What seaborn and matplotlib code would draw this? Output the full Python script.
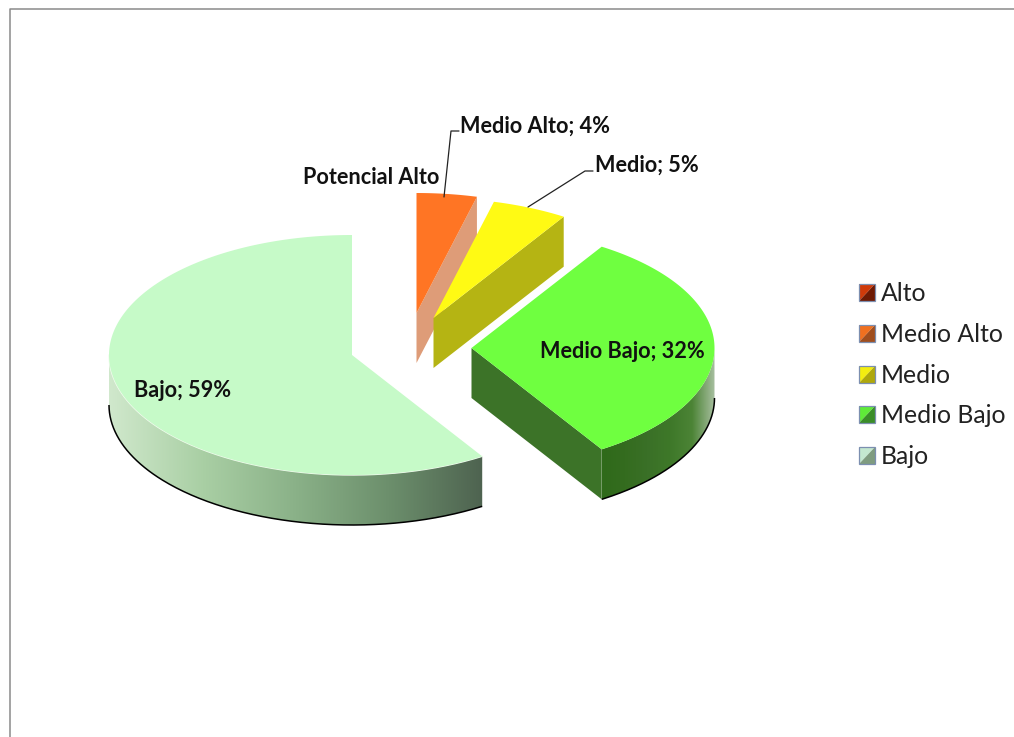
import numpy as np
import matplotlib
matplotlib.use("Agg")
import matplotlib.pyplot as plt
import seaborn as sns
from matplotlib.patches import Patch, PathPatch, Polygon
from matplotlib.path import Path
from matplotlib.legend_handler import HandlerPatch

# Distribution by level, in clockwise order from twelve o'clock
levels = ["Alto", "Medio Alto", "Medio", "Medio Bajo", "Bajo"]
shares = [0, 4, 5, 32, 59]

top_colors = ["#B02A06", "#FF7524", "#FFFA14", "#6FFF40", "#C6FAC8"]
cut_colors = ["#7A1D04", "#DE9C78", "#B5B413", "#3C7328", "#8FB090"]
swatch_light = ["#CF3A0A", "#F0701F", "#F4EE10", "#5FEA38", "#C4E8D0"]
swatch_dark = ["#6E1A04", "#A04E1E", "#AFA80C", "#3A8C28", "#7F9C80"]

# Where each slice's apex sits once the pie is pulled apart
apex = {"Medio Alto": (416.5, 313), "Medio": (433.5, 318),
        "Medio Bajo": (471.5, 348), "Bajo": (352, 355)}
RX, RY, DEPTH = 243, 120, 50

sns.set_theme(style="white")
plt.rcParams["font.family"] = ["Lato", "DejaVu Sans"]

fig = plt.figure(figsize=(10.14, 7.37), dpi=100, facecolor="white")
ax = fig.add_axes([0, 0, 1, 1])
ax.set_xlim(0, 1014)
ax.set_ylim(737, 0)
ax.axis("off")

ax.plot([10, 10, 1014], [737, 8.5, 8.5], color="#8A8A8A", lw=1.1, zorder=1)


def rim(center, a0, a1, n=200):
    """Points on the tilted circle between two clockwise angles (degrees)."""
    t = np.radians(np.linspace(a0, a1, n))
    return center[0] + RX * np.sin(t), center[1] - RY * np.cos(t)


def side_wall(center, a0, a1, cmap, zorder):
    """Outer curved wall, shaded from left to right."""
    x, y = rim(center, a0, a1)
    xs = np.r_[x, x[::-1]]
    ys = np.r_[y, y[::-1] + DEPTH]
    clip = PathPatch(Path(np.c_[xs, ys]), fc="none", ec="none",
                     transform=ax.transData)
    ax.add_patch(clip)
    grad = np.linspace(0, 1, 256).reshape(1, -1)
    im = ax.imshow(grad, cmap=cmap, aspect="auto", zorder=zorder,
                   extent=[x.min(), x.max(), ys.max(), ys.min()])
    im.set_clip_path(clip)
    ax.set_xlim(0, 1014)
    ax.set_ylim(737, 0)
    return x, y


edges = np.cumsum([0] + shares) * 3.6
for i, name in enumerate(levels):
    if shares[i] == 0:
        continue
    a0, a1 = edges[i], edges[i + 1]
    c = apex[name]
    # Flat cut face along the clockwise edge, visible when it faces the viewer
    if a1 < 180:
        ex, ey = rim(c, a1, a1, 1)
        ax.add_patch(Polygon([(c[0], c[1]), (ex[0], ey[0]),
                              (ex[0], ey[0] + DEPTH), (c[0], c[1] + DEPTH)],
                             fc=cut_colors[i], ec="none", zorder=3))
    # Curved outer wall for the part of the rim at the front
    lo, hi = max(a0, 90), min(a1, 270)
    if lo < hi:
        if name == "Bajo":
            cmap = sns.blend_palette(["#D0E8CC", "#A9CFA4", "#8AB188",
                                      "#6C8F6C", "#4E6350"], as_cmap=True)
        else:
            cmap = sns.blend_palette(["#2F6A1A", "#346C1F", "#3A7027",
                                      "#3E7829", "#4C8436", "#A8BFA0"],
                                     as_cmap=True)
        x, y = side_wall(c, lo, hi, cmap, 3.5)
        ax.plot(x, y + DEPTH, color="black", lw=1.1, zorder=4,
                solid_capstyle="butt")
        if name == "Bajo":
            ax.plot(x, y, color="#F2FBEF", lw=1.0, zorder=5)
    # Top face
    tx, ty = rim(c, a0, a1)
    ax.add_patch(Polygon(np.c_[np.r_[c[0], tx], np.r_[c[1], ty]],
                         fc=top_colors[i], ec="none", zorder=6))

# Data labels
label_style = dict(fontsize=15.6, fontweight="bold", color="#111111",
                   va="center", ha="left", zorder=8)
ax.text(303, 177.5, "Potencial Alto", **label_style)
ax.text(460, 126, f"{levels[1]}; {shares[1]}%", **label_style)
ax.text(595, 165.5, f"{levels[2]}; {shares[2]}%", **label_style)
ax.text(540, 351, f"{levels[3]}; {shares[3]}%", **label_style)
ax.text(134, 390.5, f"{levels[4]}; {shares[4]}%", **label_style)

# Leader lines
ax.plot([444, 451, 459], [197, 131, 131], color="#222222", lw=0.9, zorder=7)
ax.plot([528, 585, 593], [207, 171, 171], color="#222222", lw=0.9, zorder=7)


class TwoToneSwatch(HandlerPatch):
    """Legend key split along its diagonal, with a thin blue-grey edge."""

    def create_artists(self, legend, orig, xd, yd, w, h, fontsize, trans):
        x0, y0 = -xd, -yd
        light = Polygon([(x0, y0), (x0, y0 + h), (x0 + w, y0 + h)],
                        fc=orig.get_facecolor(), ec="none", transform=trans)
        dark = Polygon([(x0, y0), (x0 + w, y0), (x0 + w, y0 + h)],
                       fc=orig.get_edgecolor(), ec="none", transform=trans)
        box = Polygon([(x0, y0), (x0 + w, y0), (x0 + w, y0 + h), (x0, y0 + h)],
                      fc="none", ec="#7C8FB0", lw=0.9, transform=trans)
        return [light, dark, box]


handles = [Patch(fc=l, ec=d) for l, d in zip(swatch_light, swatch_dark)]
ax.legend(handles, levels, handler_map={Patch: TwoToneSwatch()},
          loc="center left", bbox_to_anchor=(858.5 / 1014, 1 - 375.2 / 737),
          frameon=False, fontsize=17.8, labelcolor="#222222",
          handlelength=0.68, handleheight=0.68, handletextpad=0.22,
          labelspacing=0.72, borderpad=0, borderaxespad=0)

fig.savefig("out.png", dpi=100)
